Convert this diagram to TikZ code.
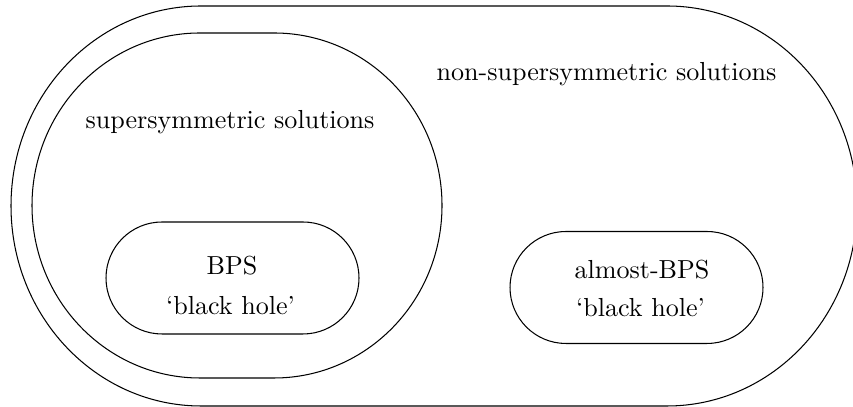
\documentclass[tikz,border=0pt]{standalone}
\usetikzlibrary{shapes.misc}
\begin{document}
\begin{tikzpicture}[x=0.3836pt,y=0.3836pt,
  region/.style={draw=black, line width=0.4pt},
  blob/.style={draw=black, line width=0.4pt, rounded rectangle, minimum width=97.05pt, minimum height=42.96pt, inner sep=0pt},
  lbl/.style={anchor=base, inner sep=0pt, font=\normalsize}]
\useasboundingbox (0,0) rectangle (853,407);
\clip (0,0) rectangle (853,407);
% outer region: non-supersymmetric solutions
\draw[region] (201,401) -- (667,401)
  arc[start angle=90, end angle=-90, x radius=190, y radius=200]
  -- (201,1)
  arc[start angle=270, end angle=90, x radius=190, y radius=200] -- cycle;
% inner region: supersymmetric solutions
\draw[region] (200,374) -- (274,374)
  arc[start angle=90, end angle=-90, x radius=168, y radius=172.5]
  -- (200,29)
  arc[start angle=270, end angle=90, x radius=168, y radius=172.5] -- cycle;
% boxes
\node[blob] (bps) at (232.5,129) {};
\node[blob] (abps) at (636.5,119.5) {};
% labels
\node[lbl] (susy) at (230,278) {supersymmetric solutions};
\node[lbl] (nonsusy) at (606.5,326) {non-supersymmetric solutions};
\node[lbl] (bpsname) at (232,132.7) {BPS};
\node[lbl] (bpsbh) at (230.5,92) {`black hole'};
\node[lbl] (abpsname) at (642,128) {almost-BPS};
\node[lbl] (abpsbh) at (640.5,90.3) {`black hole'};
\end{tikzpicture}
\end{document}
